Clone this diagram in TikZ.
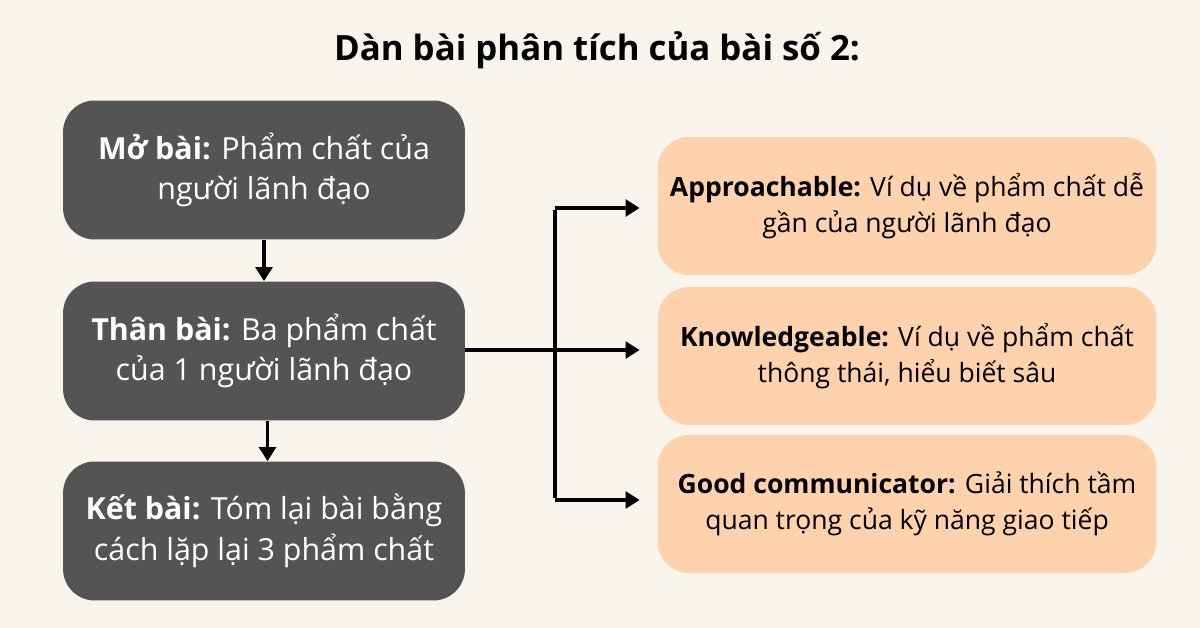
\documentclass[tikz,border=0pt]{standalone}
\usepackage{fontspec}
\setmainfont{Open Sans}
\usepackage{tikz}
\usetikzlibrary{arrows.meta, positioning}
\definecolor{PaperCream}{HTML}{FAF5EC}
\definecolor{SlateDark}{HTML}{545454}
\definecolor{PeachSoft}{HTML}{FDD2AC}
\tikzset{
  darkbox/.style={rectangle, rounded corners=18pt, fill=SlateDark, text=white, minimum width=8.04cm, minimum height=2.78cm, font=\fontsize{17.3}{23}\selectfont, align=center},
  peachbox/.style={rectangle, rounded corners=18pt, fill=PeachSoft, text=black, minimum width=9.98cm, minimum height=2.76cm, font=\fontsize{15.1}{20.5}\selectfont, align=center},
  arrow/.style={-{Triangle[length=8pt, width=9.5pt]}, line width=2.2pt, black}
}
\begin{document}
\begin{tikzpicture}[x=0.02cm, y=-0.02cm]
  % Background
  \fill[PaperCream] (0,0) rectangle (1200,628);
  \useasboundingbox (0,0) rectangle (1200,628);

  % Title
  \node[font=\fontsize{19.8}{24}\selectfont\bfseries] (title) at (597,50) {Dàn bài phân tích của bài số 2:};

  % Left column
  \node[darkbox] (mobai) at (264,170) {\textbf{Mở bài:} Phẩm chất của\\người lãnh đạo};
  \node[darkbox] (thanbai) at (264,351) {\textbf{Thân bài:} Ba phẩm chất\\của 1 người lãnh đạo};
  \node[darkbox] (ketbai) at (264,531) {\textbf{Kết bài:} Tóm lại bài bằng\\cách lặp lại 3 phẩm chất};

  % Right column
  \node[peachbox] (approach) at (907,206) {\textbf{Approachable:} Ví dụ về phẩm chất dễ\\gần của người lãnh đạo};
  \node[peachbox] (knowledge) at (907,356) {\textbf{Knowledgeable:} Ví dụ về phẩm chất\\thông thái, hiểu biết sâu};
  \node[peachbox] (communicator) at (907,504) {\textbf{Good communicator:} Giải thích tầm\\quan trọng của kỹ năng giao tiếp};

  % Branch points
  \coordinate (split) at (555,350);
  \coordinate (top) at (555,208);
  \coordinate (bottom) at (555,500);

  % Arrows
  \draw[arrow] (mobai.south) -- (thanbai.north);
  \draw[arrow] ([xshift=2]thanbai.south) -- ([xshift=2]ketbai.north);
  \draw[arrow] (thanbai.east |- split) -- ([xshift=-10]knowledge.west |- split);
  \draw[line width=2.2pt] ([yshift=-1.1pt]top) -- ([yshift=1.1pt]bottom);
  \draw[arrow] (top) -- ([xshift=-10]approach.west |- top);
  \draw[arrow] (bottom) -- ([xshift=-10]communicator.west |- bottom);
\end{tikzpicture}
\end{document}
